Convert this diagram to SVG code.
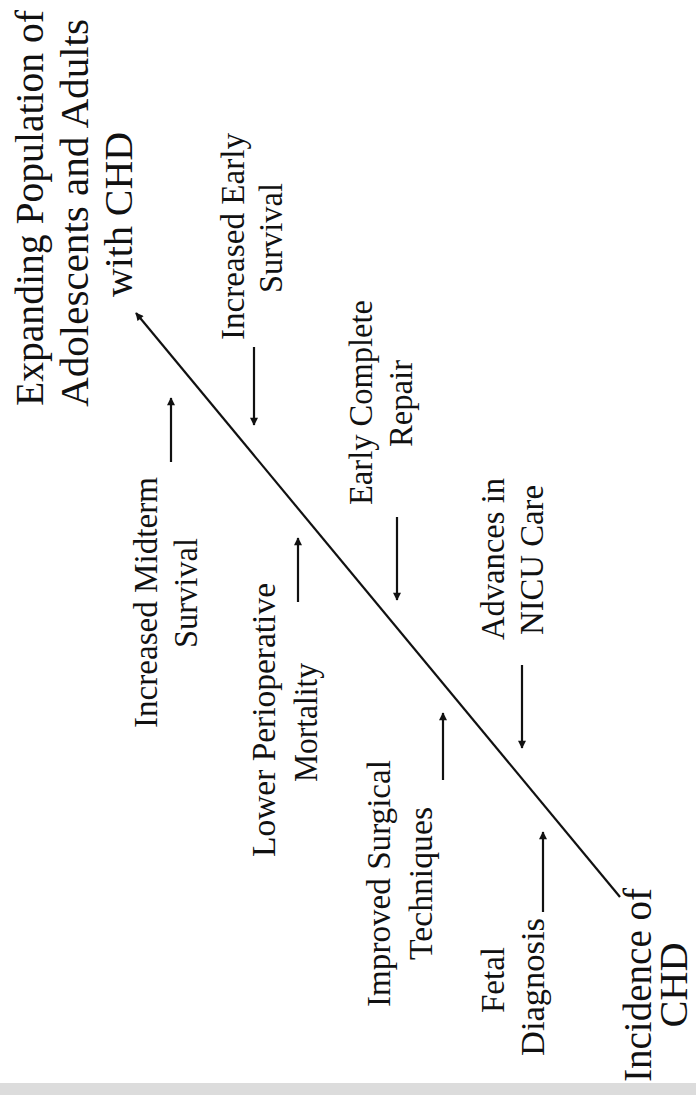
<svg xmlns="http://www.w3.org/2000/svg" width="696" height="1095" viewBox="0 0 696 1095">
<style>
text{font-family:"Liberation Serif","Times New Roman",serif;fill:#111;text-anchor:middle}
.t{font-size:40px}
.l{font-size:33px}
.c{stroke:#111;stroke-width:2.2;fill:none}
</style>
<defs>
<marker id="ah" viewBox="0 0 10 10" refX="9" refY="5" markerWidth="9" markerHeight="8" markerUnits="userSpaceOnUse" orient="auto">
<path d="M0,0 L10,5 L0,10 z" fill="#111"/>
</marker>
</defs>
<rect width="696" height="1095" fill="#fff"/>
<rect x="0" y="1083" width="696" height="12" fill="#dcdcdc"/>
<g id="connectors">
<line class="c" x1="620" y1="897" x2="136" y2="313" stroke-width="2.8" marker-end="url(#ah)"/>
<line class="c" x1="254" y1="347" x2="254" y2="425" marker-end="url(#ah)"/>
<line class="c" x1="171" y1="462" x2="171" y2="398" marker-end="url(#ah)"/>
<line class="c" x1="298" y1="602" x2="298" y2="538" marker-end="url(#ah)"/>
<line class="c" x1="397" y1="517" x2="397" y2="600" marker-end="url(#ah)"/>
<line class="c" x1="522" y1="665" x2="522" y2="748" marker-end="url(#ah)"/>
<line class="c" x1="443" y1="780" x2="443" y2="713" marker-end="url(#ah)"/>
<line class="c" x1="543" y1="912" x2="543" y2="832" marker-end="url(#ah)"/>
</g>
<g id="outcome">
<text class="t" transform="translate(43,208) rotate(-90)" textLength="396" lengthAdjust="spacingAndGlyphs">Expanding Population of</text>
<text class="t" transform="translate(88,213) rotate(-90)" textLength="388" lengthAdjust="spacingAndGlyphs">Adolescents and Adults</text>
<text class="t" transform="translate(132,214.5) rotate(-90)" textLength="165" lengthAdjust="spacingAndGlyphs">with CHD</text>
</g>
<g id="early-survival">
<text class="l" transform="translate(244,236.5) rotate(-90)" textLength="207" lengthAdjust="spacingAndGlyphs">Increased Early</text>
<text class="l" transform="translate(282,238) rotate(-90)" textLength="110" lengthAdjust="spacingAndGlyphs">Survival</text>
</g>
<g id="midterm-survival">
<text class="l" transform="translate(157,602.5) rotate(-90)" textLength="251" lengthAdjust="spacingAndGlyphs">Increased Midterm</text>
<text class="l" transform="translate(197,593) rotate(-90)" textLength="110" lengthAdjust="spacingAndGlyphs">Survival</text>
</g>
<g id="perioperative">
<text class="l" transform="translate(275,720) rotate(-90)" textLength="274" lengthAdjust="spacingAndGlyphs">Lower Perioperative</text>
<text class="l" transform="translate(317,722.5) rotate(-90)" textLength="119" lengthAdjust="spacingAndGlyphs">Mortality</text>
</g>
<g id="complete-repair">
<text class="l" transform="translate(372,402.5) rotate(-90)" textLength="205" lengthAdjust="spacingAndGlyphs">Early Complete</text>
<text class="l" transform="translate(412,403.5) rotate(-90)" textLength="87" lengthAdjust="spacingAndGlyphs">Repair</text>
</g>
<g id="nicu">
<text class="l" transform="translate(504,559) rotate(-90)" textLength="162" lengthAdjust="spacingAndGlyphs">Advances in</text>
<text class="l" transform="translate(543,560) rotate(-90)" textLength="150" lengthAdjust="spacingAndGlyphs">NICU Care</text>
</g>
<g id="surgical">
<text class="l" transform="translate(390,883.5) rotate(-90)" textLength="247" lengthAdjust="spacingAndGlyphs">Improved Surgical</text>
<text class="l" transform="translate(432,883.5) rotate(-90)" textLength="153" lengthAdjust="spacingAndGlyphs">Techniques</text>
</g>
<g id="fetal">
<text class="l" transform="translate(504,980) rotate(-90)" textLength="66" lengthAdjust="spacingAndGlyphs">Fetal</text>
<text class="l" transform="translate(544,987) rotate(-90)" textLength="138" lengthAdjust="spacingAndGlyphs">Diagnosis</text>
</g>
<g id="incidence">
<text class="t" transform="translate(651,985) rotate(-90)" textLength="194" lengthAdjust="spacingAndGlyphs">Incidence of</text>
<text class="t" transform="translate(687,985) rotate(-90)" textLength="85" lengthAdjust="spacingAndGlyphs">CHD</text>
</g>
</svg>
